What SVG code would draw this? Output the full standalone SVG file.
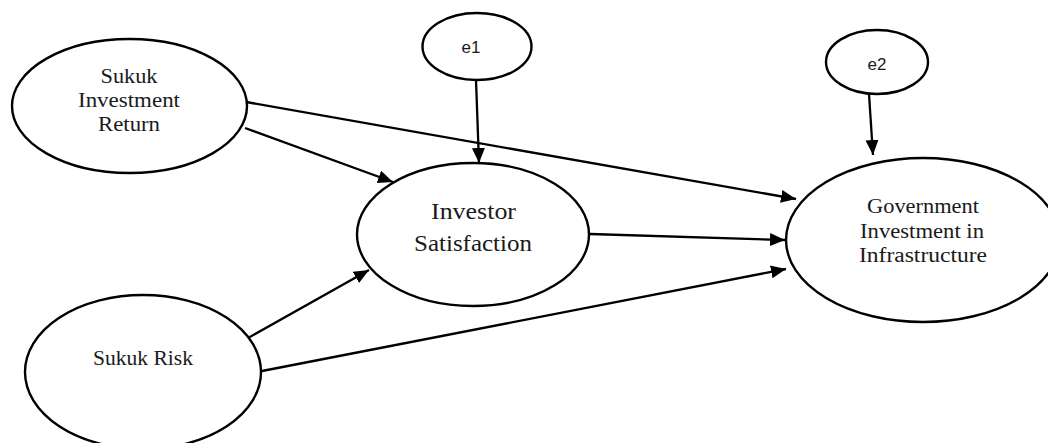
<svg xmlns="http://www.w3.org/2000/svg" width="1048" height="443" viewBox="0 0 1048 443">
<style>
.node ellipse{fill:#fff;stroke:#000;stroke-width:2.4}
.lbl{font-family:"Liberation Serif","Times New Roman",serif;fill:#1a1a1a;text-anchor:middle}
.err{font-family:"Liberation Sans",Arial,sans-serif;font-size:17px;fill:#1a1a1a;text-anchor:middle}
.edge line{stroke:#000;stroke-width:2.3}
.arr{marker-end:url(#ah)}
</style>
<defs>
<marker id="ah" markerUnits="userSpaceOnUse" markerWidth="16" markerHeight="14" refX="15" refY="6.5" orient="auto">
<path d="M0,0 L15,6.5 L0,13 z" fill="#000"/>
</marker>
</defs>
<rect width="1048" height="443" fill="#fff"/>
<g id="connectors" class="edge">
<line class="arr" x1="246" y1="102" x2="796" y2="199"/>
<line class="arr" x1="245" y1="128" x2="393" y2="182"/>
<line class="arr" x1="476" y1="80" x2="479" y2="163"/>
<line class="arr" x1="248" y1="338" x2="369" y2="270"/>
<line class="arr" x1="262" y1="371" x2="786" y2="269"/>
<line class="arr" x1="590" y1="234" x2="785" y2="240"/>
<line class="arr" x1="869" y1="94" x2="873" y2="155"/>
</g>
<g id="sukuk-return" class="node">
<ellipse cx="129.5" cy="106" rx="117.5" ry="67"/>
<text class="lbl" font-size="20" x="129" y="83" textLength="57" lengthAdjust="spacingAndGlyphs">Sukuk</text>
<text class="lbl" font-size="20" x="129" y="107" textLength="102" lengthAdjust="spacingAndGlyphs">Investment</text>
<text class="lbl" font-size="20" x="129" y="131" textLength="62" lengthAdjust="spacingAndGlyphs">Return</text>
</g>
<g id="sukuk-risk" class="node">
<ellipse cx="143" cy="372" rx="118" ry="77"/>
<text class="lbl" font-size="20" x="143" y="365" textLength="100" lengthAdjust="spacingAndGlyphs">Sukuk Risk</text>
</g>
<g id="e1" class="node">
<ellipse cx="477" cy="46.5" rx="54.5" ry="33.5"/>
<text class="err" x="471" y="53">e1</text>
</g>
<g id="investor-satisfaction" class="node">
<ellipse cx="473" cy="234.5" rx="116" ry="71.5"/>
<text class="lbl" font-size="23" x="473.5" y="219" textLength="85" lengthAdjust="spacingAndGlyphs">Investor</text>
<text class="lbl" font-size="23" x="473" y="251" textLength="118" lengthAdjust="spacingAndGlyphs">Satisfaction</text>
</g>
<g id="e2" class="node">
<ellipse cx="877" cy="62" rx="51" ry="32"/>
<text class="err" x="877" y="70">e2</text>
</g>
<g id="government-investment" class="node">
<ellipse cx="923" cy="240" rx="137" ry="82"/>
<text class="lbl" font-size="20" x="923" y="213" textLength="112" lengthAdjust="spacingAndGlyphs">Government</text>
<text class="lbl" font-size="20" x="922" y="238" textLength="124" lengthAdjust="spacingAndGlyphs">Investment in</text>
<text class="lbl" font-size="20" x="923" y="262" textLength="128" lengthAdjust="spacingAndGlyphs">Infrastructure</text>
</g>
</svg>
